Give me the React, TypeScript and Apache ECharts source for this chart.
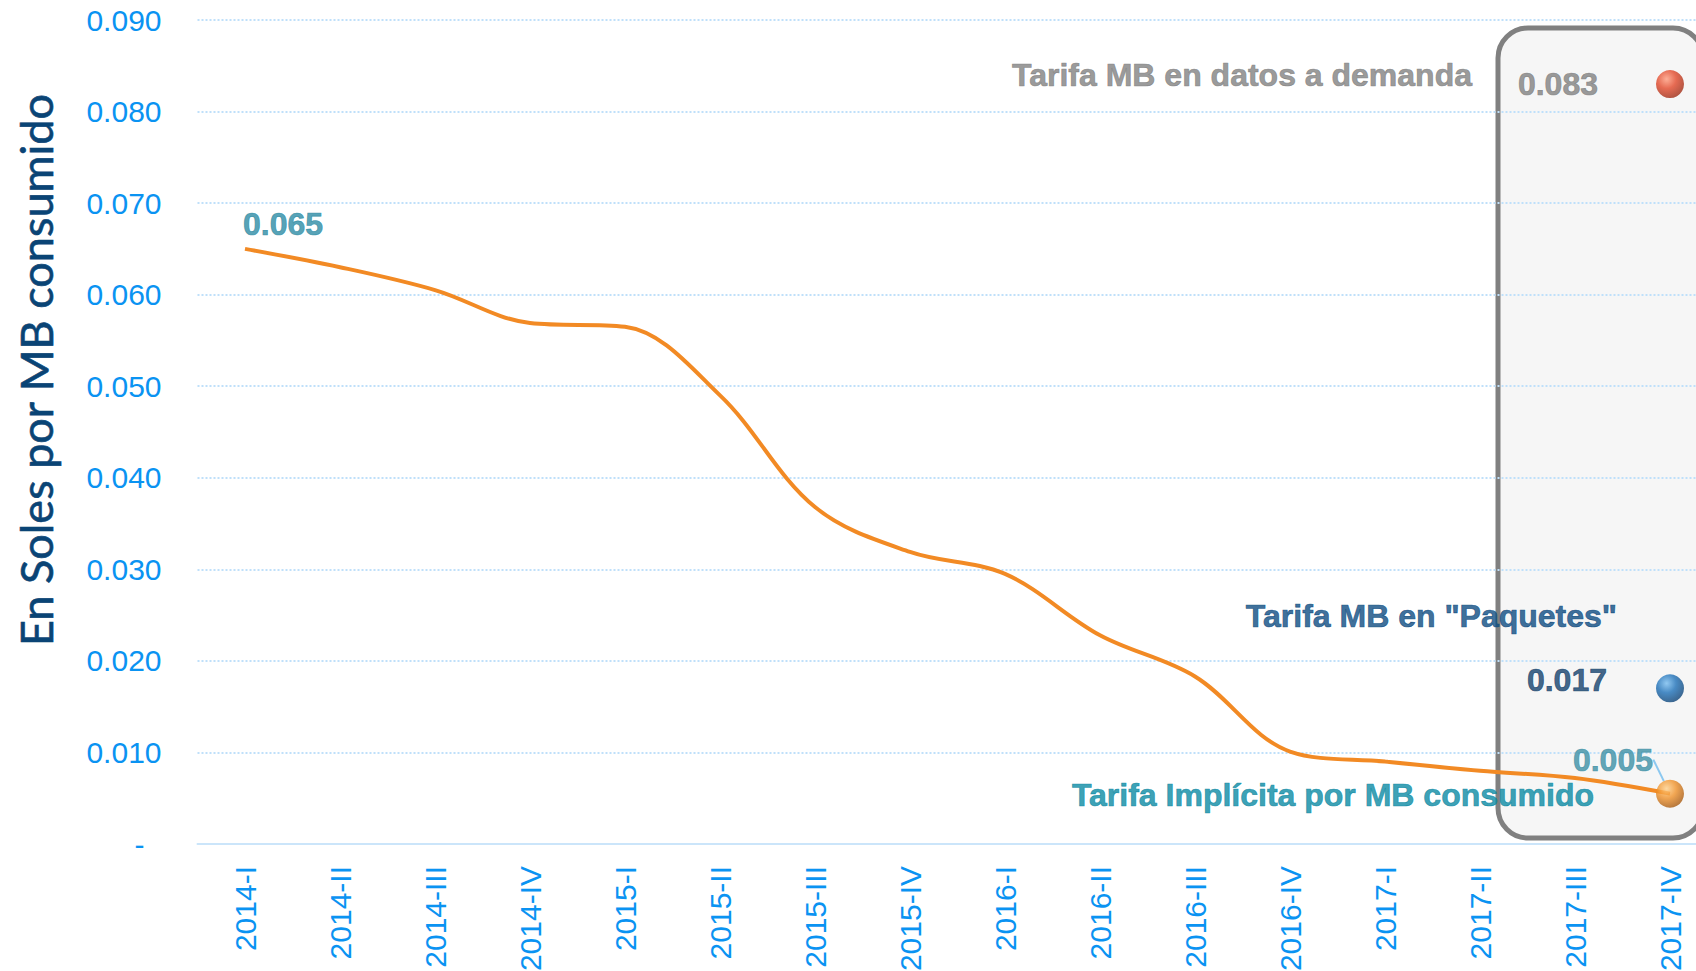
import React, { useEffect, useRef } from "react";
import * as echarts from "echarts";

const categories = [
  "2014-I", "2014-II", "2014-III", "2014-IV",
  "2015-I", "2015-II", "2015-III", "2015-IV",
  "2016-I", "2016-II", "2016-III", "2016-IV",
  "2017-I", "2017-II", "2017-III", "2017-IV",
];

// Tarifa Implícita por MB consumido (S/ por MB)
const implicitRate = [
  0.065, 0.063, 0.0605, 0.0569,
  0.0565, 0.049, 0.0368, 0.0319,
  0.0295, 0.0228, 0.0183, 0.0101,
  0.009, 0.008, 0.0072, 0.0055,
];

const onDemandRate = 0.083; // Tarifa MB en datos a demanda (2017-IV)
const packageRate = 0.017; // Tarifa MB en "Paquetes" (2017-IV)

const seriesNames = [
  "Tarifa MB en datos a demanda",
  'Tarifa MB en "Paquetes"',
  "Tarifa Implícita por MB consumido",
];

const yAxisTitle = "En Soles por MB consumido";
const yMin = 0;
const yMax = 0.09;
const yStep = 0.01;

const fmt = (v: number) => (Math.floor(v * 1000 + 1e-6) / 1000).toFixed(3);

const BOLD = "'Liberation Sans', Arial, sans-serif";
const LBL = 32;

function boldText(color: string) {
  return {
    color,
    fontSize: LBL,
    fontWeight: "bold",
    fontFamily: BOLD,
    textBorderColor: color,
    textBorderWidth: 0.7,
  };
}

function ball(c0: string, c1: string, c2: string) {
  return new echarts.graphic.RadialGradient(0.38, 0.32, 0.75, [
    { offset: 0, color: c0 },
    { offset: 0.45, color: c1 },
    { offset: 1, color: c2 },
  ]);
}

export default function App() {
  const ref = useRef<HTMLDivElement>(null);

  useEffect(() => {
    if (!ref.current) return;
    const chart = echarts.init(ref.current, undefined, { renderer: "svg" });
    const lastCat = categories[categories.length - 1];
    const lastVal = implicitRate[implicitRate.length - 1];

    const option: any = {
      animation: false,
      backgroundColor: "#ffffff",
      grid: {
        left: 197.5,
        right: -21.5,
        top: 20,
        bottom: 127,
        containLabel: false,
        outerBoundsMode: "none",
      },
      xAxis: {
        type: "category",
        data: categories,
        boundaryGap: true,
        axisLine: { show: true, lineStyle: { color: "#CBE5FA", width: 2 } },
        axisTick: { show: false },
        axisLabel: {
          rotate: 90,
          margin: 22,
          color: "#0A93F2",
          fontSize: 30,
          fontFamily: "'Liberation Sans', Arial, sans-serif",
          interval: 0,
        },
        splitLine: { show: false },
      },
      yAxis: {
        type: "value",
        min: yMin,
        max: yMax,
        interval: yStep,
        axisLine: { show: false },
        axisTick: { show: false },
        axisLabel: {
          margin: 36,
          color: "#0A93F2",
          fontSize: 30,
          fontFamily: "'Liberation Sans', Arial, sans-serif",
          formatter: (v: number) => (Math.abs(v) < 1e-9 ? "{d|-}" : v.toFixed(3)),
          rich: {
            d: {
              color: "#0A93F2",
              fontSize: 30,
              fontFamily: "'Liberation Sans', Arial, sans-serif",
              padding: [0, 17, 0, 0],
            },
          },
        },
        splitLine: {
          show: true,
          lineStyle: { color: "#BFE0FA", width: 2, type: [2, 2] },
        },
      },
      graphic: {
        elements: [
          {
            type: "rect",
            z: -1,
            shape: { x: 1498, y: 28, width: 205, height: 810, r: 30 },
            style: { fill: "#F6F6F6", stroke: "#808080", lineWidth: 5 },
          },
          {
            type: "text",
            x: 36,
            y: 370,
            rotation: Math.PI / 2,
            style: {
              text: yAxisTitle,
              fill: "#0A4475",
              stroke: "#0A4475",
              lineWidth: 0.6,
              font: "45px Lato, 'Open Sans', sans-serif",
              textAlign: "center",
              textVerticalAlign: "middle",
            },
          },
        ],
      },
      series: [
        {
          name: seriesNames[2],
          type: "line",
          data: implicitRate,
          smooth: 0.35,
          symbol: "none",
          lineStyle: { color: "#F28A24", width: 4 },
          z: 2,
        },
        {
          name: seriesNames[0],
          type: "scatter",
          z: 4,
          symbolSize: 28,
          data: [
            {
              value: [lastCat, onDemandRate],
              itemStyle: { color: ball("#FF9C7E", "#E2482A", "#962812") },
            },
          ],
          label: {
            show: true,
            position: "left",
            distance: 58,
            formatter: (p: any) => fmt(p.value[1]),
            ...boldText("#7F7F7F"),
          },
        },
        {
          name: seriesNames[1],
          type: "scatter",
          z: 4,
          symbolSize: 28,
          data: [
            {
              value: [lastCat, packageRate],
              itemStyle: { color: ball("#78BDF0", "#1D70B8", "#0B3D6E") },
            },
          ],
          label: {
            show: true,
            position: "left",
            distance: 49,
            offset: [0, -8],
            formatter: (p: any) => fmt(p.value[1]),
            ...boldText("#113F6B"),
          },
        },
        {
          name: seriesNames[2] + " (último)",
          type: "scatter",
          z: 4,
          symbolSize: 28,
          data: [
            {
              value: [lastCat, lastVal],
              itemStyle: { color: ball("#FFD08A", "#F0922A", "#9E520C") },
            },
          ],
          label: {
            show: true,
            position: "left",
            distance: 3,
            formatter: (p: any) => fmt(p.value[1]),
            ...boldText("#3A8FA5"),
          },
          labelLayout: { dy: -34 },
          labelLine: {
            show: true,
            lineStyle: { color: "#8CC8F0", width: 2 },
          },
        },
        {
          name: "anotaciones",
          type: "scatter",
          z: 5,
          symbolSize: 0,
          silent: true,
          data: [
            {
              value: [categories[0], implicitRate[0]],
              label: {
                show: true,
                position: "top",
                offset: [38, -4],
                formatter: (p: any) => fmt(p.value[1]),
                ...boldText("#2A8AA3"),
              },
            },
            {
              value: [lastCat, onDemandRate],
              label: {
                show: true,
                position: "left",
                distance: 198,
                offset: [0, -9],
                formatter: seriesNames[0],
                ...boldText("#7F7F7F"),
              },
            },
            {
              value: [lastCat, packageRate],
              label: {
                show: true,
                position: "left",
                distance: 53,
                offset: [0, -72],
                formatter: seriesNames[1],
                ...boldText("#0B4A80"),
              },
            },
            {
              value: [lastCat, lastVal],
              label: {
                show: true,
                position: "left",
                distance: 76,
                offset: [0, 1],
                formatter: seriesNames[2],
                ...boldText("#0888A2"),
              },
            },
          ],
        },
      ],
    };

    chart.setOption(option);
    return () => chart.dispose();
  }, []);

  return (
    <div
      ref={ref}
      style={{ position: "absolute", left: 0, top: 0, width: 1696, height: 971 }}
    />
  );
}
